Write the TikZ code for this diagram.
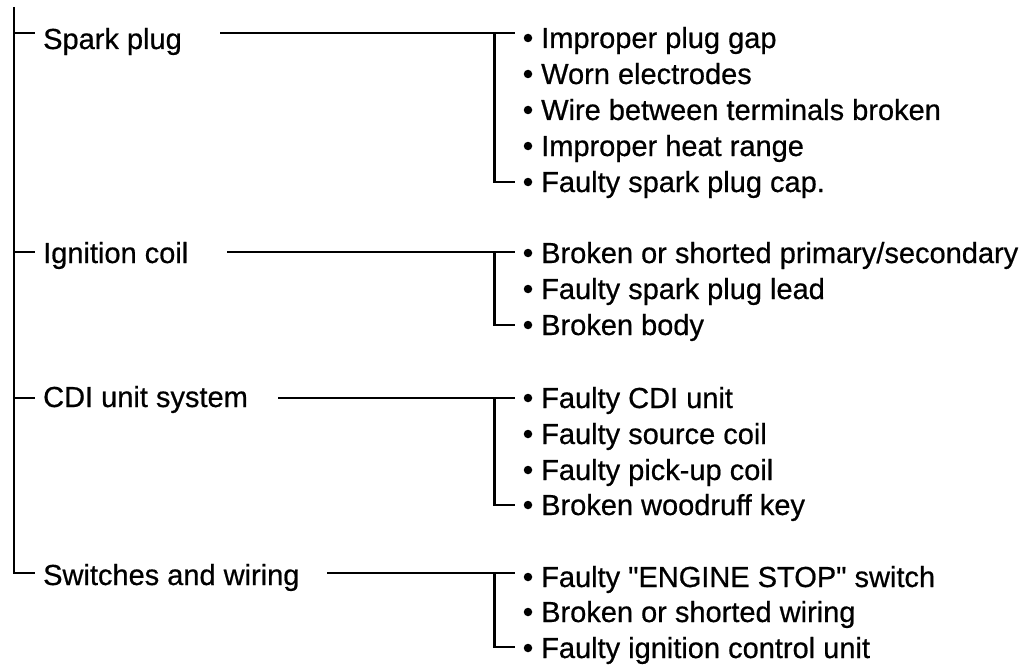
\documentclass[tikz,border=0pt]{standalone}
\usepackage{fontspec}
\setmainfont{Liberation Sans}[Ligatures=TeXOff, FakeBold=0.6]
\begin{document}
\begin{tikzpicture}[x=1pt,y=-1pt,
  tree/.style={line width=2.6pt},
  catlabel/.style={anchor=base west, inner sep=0pt, font=\fontsize{29}{34}\selectfont},
  itemlabel/.style={anchor=base west, inner sep=0pt, font=\fontsize{29}{34}\selectfont},
  bulletdot/.style={circle, fill=black, inner sep=0pt, minimum size=8.5pt}]
\useasboundingbox (0,0) rectangle (1021,669);

% main trunk with the four category ticks
\coordinate (top) at (14,7);
\coordinate (t1) at (14,33);
\coordinate (t2) at (14,252);
\coordinate (t3) at (14,398);
\coordinate (t4) at (14,573);
\coordinate (k1) at (35,33);
\coordinate (k2) at (35,252);
\coordinate (k3) at (35,398);
\coordinate (k4) at (35,573);
\draw[tree] (top) -- (t4) -- (k4);
\draw[tree] (t1) -- (k1);
\draw[tree] (t2) -- (k2);
\draw[tree] (t3) -- (k3);

% category labels
\node[catlabel] (cat1) at (43,49) {Spark plug};
\node[catlabel] (cat2) at (43,263) {Ignition coil};
\node[catlabel] (cat3) at (43,407) {CDI unit system};
\node[catlabel] (cat4) at (43,585) {Switches and wiring};

% leaders from each category to its bracket
\coordinate (s1) at (220,33);
\coordinate (s2) at (227,252);
\coordinate (s3) at (278,398);
\coordinate (s4) at (327,573);

% item lists: bullet and text at each baseline
\foreach \g/\y/\t in {
  1a/48/Improper plug gap,
  1b/84/Worn electrodes,
  1c/120/Wire between terminals broken,
  1d/156/Improper heat range,
  1e/192/Faulty spark plug cap.,
  2a/263/Broken or shorted primary\slash secondary,
  2b/299/Faulty spark plug lead,
  2c/335/Broken body,
  3a/408/Faulty CDI unit,
  3b/444/Faulty source coil,
  3c/480/Faulty pick-up coil,
  3d/515/Broken woodruff key,
  4a/587/Faulty "ENGINE STOP" switch,
  4b/622/Broken or shorted wiring,
  4c/658/Faulty ignition control unit}{
  \node[bulletdot] (b\g) at (528,\y-10) {};
  \node[itemlabel] (i\g) at (541,\y) {\t};
}

% bracket end points
\coordinate (e1a) at (514.5,33);
\coordinate (e1e) at (514.5,182);
\coordinate (e2a) at (514.5,252);
\coordinate (e2c) at (514.5,325);
\coordinate (e3a) at (514.5,398);
\coordinate (e3d) at (514.5,505);
\coordinate (e4a) at (514.5,573);
\coordinate (e4c) at (514.5,647);

% brackets
\coordinate (j1) at (494.5,33);
\coordinate (j2) at (494.5,252);
\coordinate (j3) at (494.5,398);
\coordinate (j4) at (494.5,573);
\draw[tree] (s1) -- (e1a);
\draw[tree] (j1) |- (e1e);
\draw[tree] (s2) -- (e2a);
\draw[tree] (j2) |- (e2c);
\draw[tree] (s3) -- (e3a);
\draw[tree] (j3) |- (e3d);
\draw[tree] (s4) -- (e4a);
\draw[tree] (j4) |- (e4c);
\end{tikzpicture}
\end{document}
